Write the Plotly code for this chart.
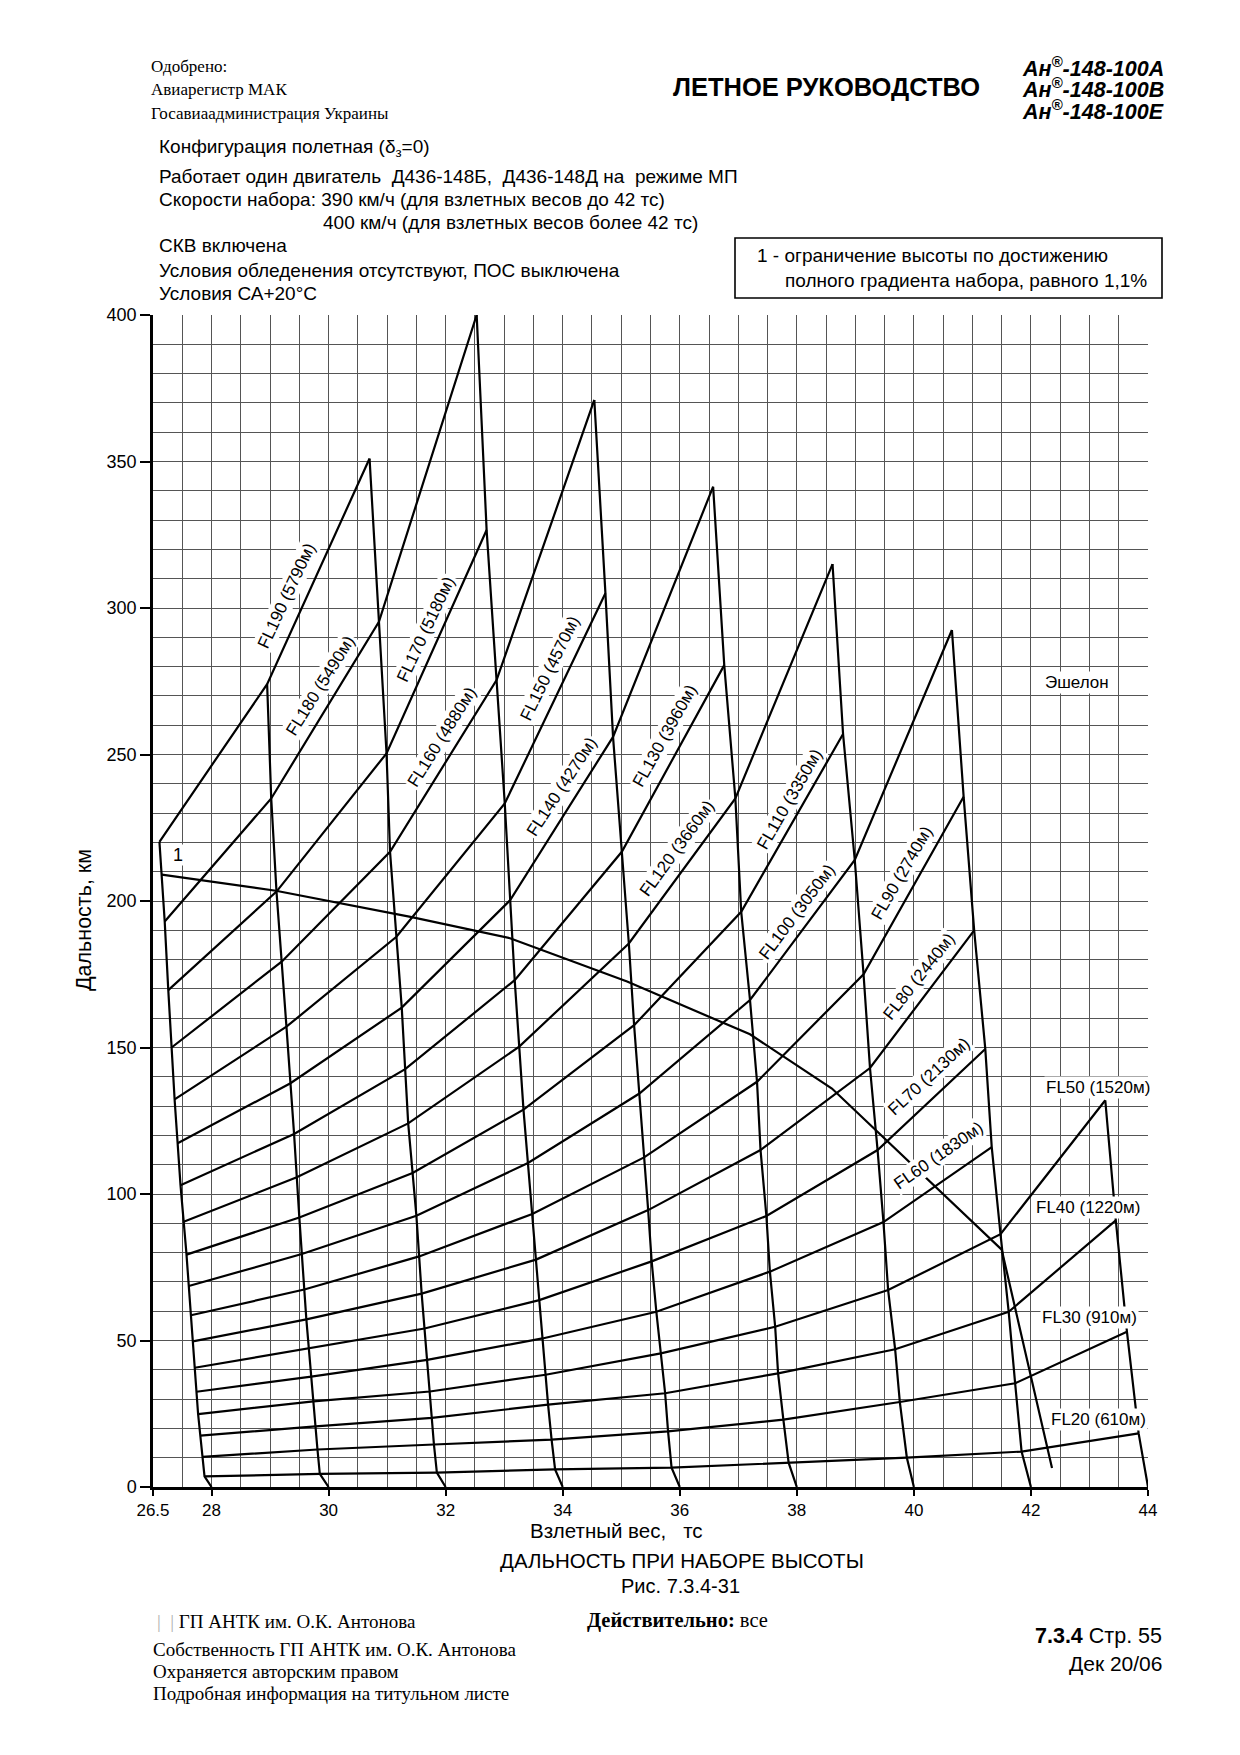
import numpy as np
import plotly.graph_objects as go

# ---------------- axis data ----------------
x_tick_vals = [27, 28, 30, 32, 34, 36, 38, 40, 42, 44]
x_tick_text = ["26.5", "28", "30", "32", "34", "36", "38", "40", "42", "44"]
y_tick_vals = [0, 50, 100, 150, 200, 250, 300, 350, 400]

# ---------------- take-off weight guide lines (x = weight, v = distance) ----------------
weight_names = [28, 30, 32, 34, 36, 38, 40, 42, 44]
wl28_x = [28.00, 27.88, 27.77, 27.68, 27.57, 27.47, 27.37, 27.26, 27.20, 27.11]
wl28_v = [0, 3.6, 25, 50, 80, 103, 132, 170, 193, 220.2]
wl30_x = [30.00, 29.85, 29.81, 29.74, 29.62, 29.50, 29.41, 29.28, 29.11, 29.02, 28.95]
wl30_v = [0, 4.5, 12.8, 29.2, 57.2, 92, 120.5, 157.1, 203.2, 235, 274]
wl32_x = [32.00, 31.85, 31.80, 31.73, 31.59, 31.50, 31.36, 31.25, 31.05, 30.99, 30.86, 30.70]
wl32_v = [0, 4.9, 14.5, 32.6, 66, 92.6, 124.1, 163.6, 216.8, 250.4, 295.3, 351]
wl34_x = [34.00, 33.87, 33.81, 33.75, 33.60, 33.48, 33.33, 33.18, 33.01, 32.87, 32.70, 32.53]
wl34_v = [0, 6.0, 16.2, 28.1, 63.8, 93.2, 128.8, 173, 233.3, 275.4, 326.6, 400]
wl36_x = [36.00, 35.86, 35.80, 35.75, 35.60, 35.52, 35.46, 35.39, 35.31, 35.22, 35.13, 35.01, 34.86, 34.73, 34.54]
wl36_v = [0, 6.6, 19, 32, 59.8, 77, 94.5, 112.5, 134.3, 157.6, 185.5, 216.8, 256, 305, 371]
wl38_x = [38.00, 37.86, 37.77, 37.68, 37.63, 37.54, 37.48, 37.38, 37.32, 37.20, 37.05, 36.95, 36.76, 36.57]
wl38_v = [0, 8.3, 23, 38.8, 54.7, 73.5, 92.5, 115, 138.3, 166.2, 196.3, 235, 280.5, 341.4]
wl40_x = [40.00, 39.88, 39.76, 39.68, 39.56, 39.48, 39.38, 39.25, 39.14, 38.99, 38.79, 38.61]
wl40_v = [0, 10, 29, 47, 67.2, 90.4, 115, 143, 175, 214, 257, 315]
wl42_x = [42.00, 41.84, 41.73, 41.62, 41.48, 41.33, 41.22, 41.03, 40.85, 40.65]
wl42_v = [0, 12.1, 35.4, 59.8, 86.3, 116, 149.5, 190, 235.6, 292.5]
wl44_x = [44.00, 43.84, 43.64, 43.45, 43.27]
wl44_v = [0, 18.3, 53, 91, 132]

weight_lines_x = [wl28_x, wl30_x, wl32_x, wl34_x, wl36_x, wl38_x, wl40_x, wl42_x, wl44_x]
weight_lines_v = [wl28_v, wl30_v, wl32_v, wl34_v, wl36_v, wl38_v, wl40_v, wl42_v, wl44_v]

# ---------------- flight level curves: distance at each weight line (from 28 onward) ----------------
fl_names = ["FL190", "FL180", "FL170", "FL160", "FL150", "FL140", "FL130", "FL120", "FL110",
            "FL100", "FL90", "FL80", "FL70", "FL60", "FL50", "FL40", "FL30", "FL20"]
fl190 = [220.2, 274, 351]
fl180 = [193, 235, 295.3, 400]
fl170 = [169.6, 203.2, 250.4, 326.6]
fl160 = [150, 179.3, 216.8, 275.4, 371]
fl150 = [132.3, 157.1, 187.8, 233.3, 305]
fl140 = [117.3, 137.8, 163.6, 200.3, 256, 341.4]
fl130 = [103, 120.5, 142.6, 173, 216.8, 280.5]
fl120 = [90.5, 105.7, 124.1, 150.3, 185.5, 235, 315]
fl110 = [79.3, 92, 107.2, 128.8, 157.6, 196.3, 257]
fl100 = [68.6, 79.5, 92.6, 110.6, 134.3, 166.2, 214, 292.5]
fl90 = [58.6, 67.4, 78.7, 93.2, 112.5, 138.3, 175, 235.6]
fl80 = [49.7, 57.2, 66, 77.6, 94.5, 115, 143, 190]
fl70 = [40.7, 47.3, 54.1, 63.8, 77, 92.5, 115, 149.5]
fl60 = [32.5, 37.7, 43.4, 50.7, 59.8, 73.5, 90.4, 116]
fl50 = [24.9, 29.2, 32.6, 38.3, 45.6, 54.7, 67.2, 86.3, 132]
fl40 = [17.5, 20.7, 23.6, 28.1, 32, 38.8, 47, 59.8, 91]
fl30 = [10.3, 12.8, 14.5, 16.2, 19, 23, 29, 35.4, 53]
fl20 = [3.6, 4.5, 4.9, 6.0, 6.6, 8.3, 10, 12.1, 18.3]
fl_values = [fl190, fl180, fl170, fl160, fl150, fl140, fl130, fl120, fl110,
             fl100, fl90, fl80, fl70, fl60, fl50, fl40, fl30, fl20]

# ---------------- limit line "1" ----------------
limit_x = [27.15, 29.1, 31.4, 33.1, 35.1, 37.2, 38.6, 41.5, 42.36]
limit_v = [209, 203.5, 194.6, 187.3, 172.5, 154.5, 136, 81, 6.5]

# ---------------- curve labels ----------------
rot_label_text = ["FL190 (5790м)", "FL180 (5490м)", "FL170 (5180м)", "FL160 (4880м)",
                  "FL150 (4570м)", "FL140 (4270м)", "FL130 (3960м)", "FL120 (3660м)",
                  "FL110 (3350м)", "FL100 (3050м)", "FL90 (2740м)", "FL80 (2440м)",
                  "FL70 (2130м)", "FL60 (1830м)"]
rot_label_x = [29.28, 29.86, 31.66, 31.93, 33.78, 33.99, 35.75, 35.95, 37.87, 38.01, 39.79, 40.09, 40.26, 40.42]
rot_label_v = [304.4, 273.7, 292.7, 255.9, 279.4, 239, 256.4, 218, 234.8, 196.4, 209.4, 174.2, 140, 113.3]
rot_label_angle = [-65, -58, -65, -58, -64, -57, -61, -54, -60, -53, -60, -52, -43, -35]

flat_label_text = ["FL50 (1520м)", "FL40 (1220м)", "FL30 (910м)", "FL20 (610м)", "Эшелон"]
flat_label_x = [43.15, 42.98, 43.0, 43.15, 42.79]
flat_label_v = [136.4, 95.5, 57.9, 23.2, 274.5]

# ---------------- figure ----------------
SANS = "Liberation Sans, Arial, sans-serif"
SERIF = "Liberation Serif, Times New Roman, serif"
LINE = dict(color="black", width=2.2)
GRID = "#555555"

fig = go.Figure()

for wx, wv in zip(weight_lines_x, weight_lines_v):
    fig.add_trace(go.Scatter(x=wx, y=wv, mode="lines", line=LINE, hoverinfo="skip"))

for name, vals in zip(fl_names, fl_values):
    xs = [float(np.interp(v, weight_lines_v[j], weight_lines_x[j])) for j, v in enumerate(vals)]
    fig.add_trace(go.Scatter(x=xs, y=vals, mode="lines", line=LINE, name=name, hoverinfo="skip"))

fig.add_trace(go.Scatter(x=limit_x, y=limit_v, mode="lines", line=LINE, hoverinfo="skip"))

# Plot-area pixel frame
W, H = 1240, 1755
L, R, T, B = 153, 1148, 315, 1487


def px(x):
    return (x - L) / (R - L)


def py(y):
    return (B - y) / (B - T)


ann = []
for t, x, v, a in zip(rot_label_text, rot_label_x, rot_label_v, rot_label_angle):
    ann.append(dict(x=x, y=v, xref="x", yref="y", text=t, showarrow=False, textangle=a,
                    font=dict(family=SANS, size=17, color="black"), bgcolor="white", borderpad=1))
for t, x, v in zip(flat_label_text, flat_label_x, flat_label_v):
    ann.append(dict(x=x, y=v, xref="x", yref="y", text=t, showarrow=False,
                    font=dict(family=SANS, size=17, color="black"), bgcolor="white", borderpad=1))
ann.append(dict(x=27.43, y=215.7, xref="x", yref="y", text="1", showarrow=False,
                font=dict(family=SANS, size=18, color="black"), bgcolor="white", borderpad=0))


def txt(text, x, y, size, xanchor="left", family=SANS, angle=0, color="black"):
    ann.append(dict(x=px(x), y=py(y), xref="paper", yref="paper", text=text, showarrow=False,
                    xanchor=xanchor, yanchor="middle", textangle=angle,
                    font=dict(family=family, size=size, color=color)))


# header
txt("Одобрено:", 149, 67, 17, family=SERIF)
txt("Авиарегистр МАК", 149, 90, 17, family=SERIF)
txt("Госавиаадминистрация Украины", 149, 113, 17, family=SERIF)
txt("<b>ЛЕТНОЕ РУКОВОДСТВО</b>", 826, 87, 25.5, xanchor="center")
txt("<b><i>Ан<sup>®</sup>-148-100А</i></b>", 1166, 67, 21.5, xanchor="right")
txt("<b><i>Ан<sup>®</sup>-148-100B</i></b>", 1166, 88, 21.5, xanchor="right")
txt("<b><i>Ан<sup>®</sup>-148-100E</i></b>", 1166, 110, 21.5, xanchor="right")

# conditions
txt("Конфигурация полетная (δ<sub>з</sub>=0)", 157, 148, 19)
txt("Работает один двигатель  Д436-148Б,  Д436-148Д на  режиме МП", 157, 177, 19)
txt("Скорости набора: 390 км/ч (для взлетных весов до 42 тс)", 157, 200, 19)
txt("400 км/ч (для взлетных весов более 42 тс)", 321, 223, 19)
txt("СКВ включена", 157, 246, 19)
txt("Условия обледенения отсутствуют, ПОС выключена", 157, 270, 19)
txt("Условия СА+20°С", 157, 293, 19)

# legend box
txt("1 - ограничение высоты по достижению", 755, 256, 19)
txt("полного градиента набора, равного 1,1%", 783, 280, 19)

# axis titles and caption
txt("Дальность, км", 84, 920, 21.5, xanchor="center", angle=-90)
txt("Взлетный вес,   тс", 528, 1530, 20.5)
txt("ДАЛЬНОСТЬ ПРИ НАБОРЕ ВЫСОТЫ", 682, 1560, 20.5, xanchor="center")
txt("Рис. 7.3.4-31", 680, 1586, 20, xanchor="center")

# footer
txt("<span style='color:#b0b0b0'>|  |</span> ГП АНТК им. О.К. Антонова", 155, 1621, 19, family=SERIF)
txt("Собственность ГП АНТК им. О.К. Антонова", 151, 1649, 19, family=SERIF)
txt("Охраняется авторским правом", 151, 1671, 19, family=SERIF)
txt("Подробная информация на титульном листе", 151, 1693, 19, family=SERIF)
txt("<b>Действительно:</b> все", 585, 1620, 20.5, family=SERIF)
txt("<b>7.3.4</b> Стр. 55", 1164, 1636, 21.5, xanchor="right")
txt("Дек 20/06", 1164, 1663, 21, xanchor="right")

shapes = [dict(type="rect", xref="paper", yref="paper", x0=px(735), x1=px(1162), y0=py(238), y1=py(298),
               line=dict(color="black", width=1.6), fillcolor="rgba(0,0,0,0)")]

fig.update_layout(
    width=W, height=H, autosize=False,
    margin=dict(l=L, r=W - R, t=T, b=H - B, pad=0),
    paper_bgcolor="white", plot_bgcolor="white",
    showlegend=False,
    font=dict(family=SANS, color="black"),
    annotations=ann, shapes=shapes,
    xaxis=dict(range=[27, 44], tickmode="array", tickvals=x_tick_vals, ticktext=x_tick_text,
               ticks="outside", ticklen=6, tickwidth=2, tickcolor="black",
               showline=True, linewidth=2.5, linecolor="black",
               showgrid=True, gridcolor=GRID, gridwidth=1, zeroline=False,
               tickfont=dict(family=SANS, size=17, color="black"),
               minor=dict(tickmode="linear", tick0=27, dtick=0.5, showgrid=True,
                          gridcolor=GRID, gridwidth=1, ticks="")),
    yaxis=dict(range=[0, 400], tickmode="array", tickvals=y_tick_vals,
               ticks="outside", ticklen=10, tickwidth=2, tickcolor="black",
               showline=True, linewidth=2.5, linecolor="black",
               showgrid=True, gridcolor=GRID, gridwidth=1, zeroline=False,
               tickfont=dict(family=SANS, size=18, color="black"),
               minor=dict(tickmode="linear", tick0=0, dtick=10, showgrid=True,
                          gridcolor=GRID, gridwidth=1, ticks="")),
)

fig.write_html("out.html", config={"displayModeBar": False},
               post_script="document.body.style.margin='0';document.body.style.overflow='hidden';")
